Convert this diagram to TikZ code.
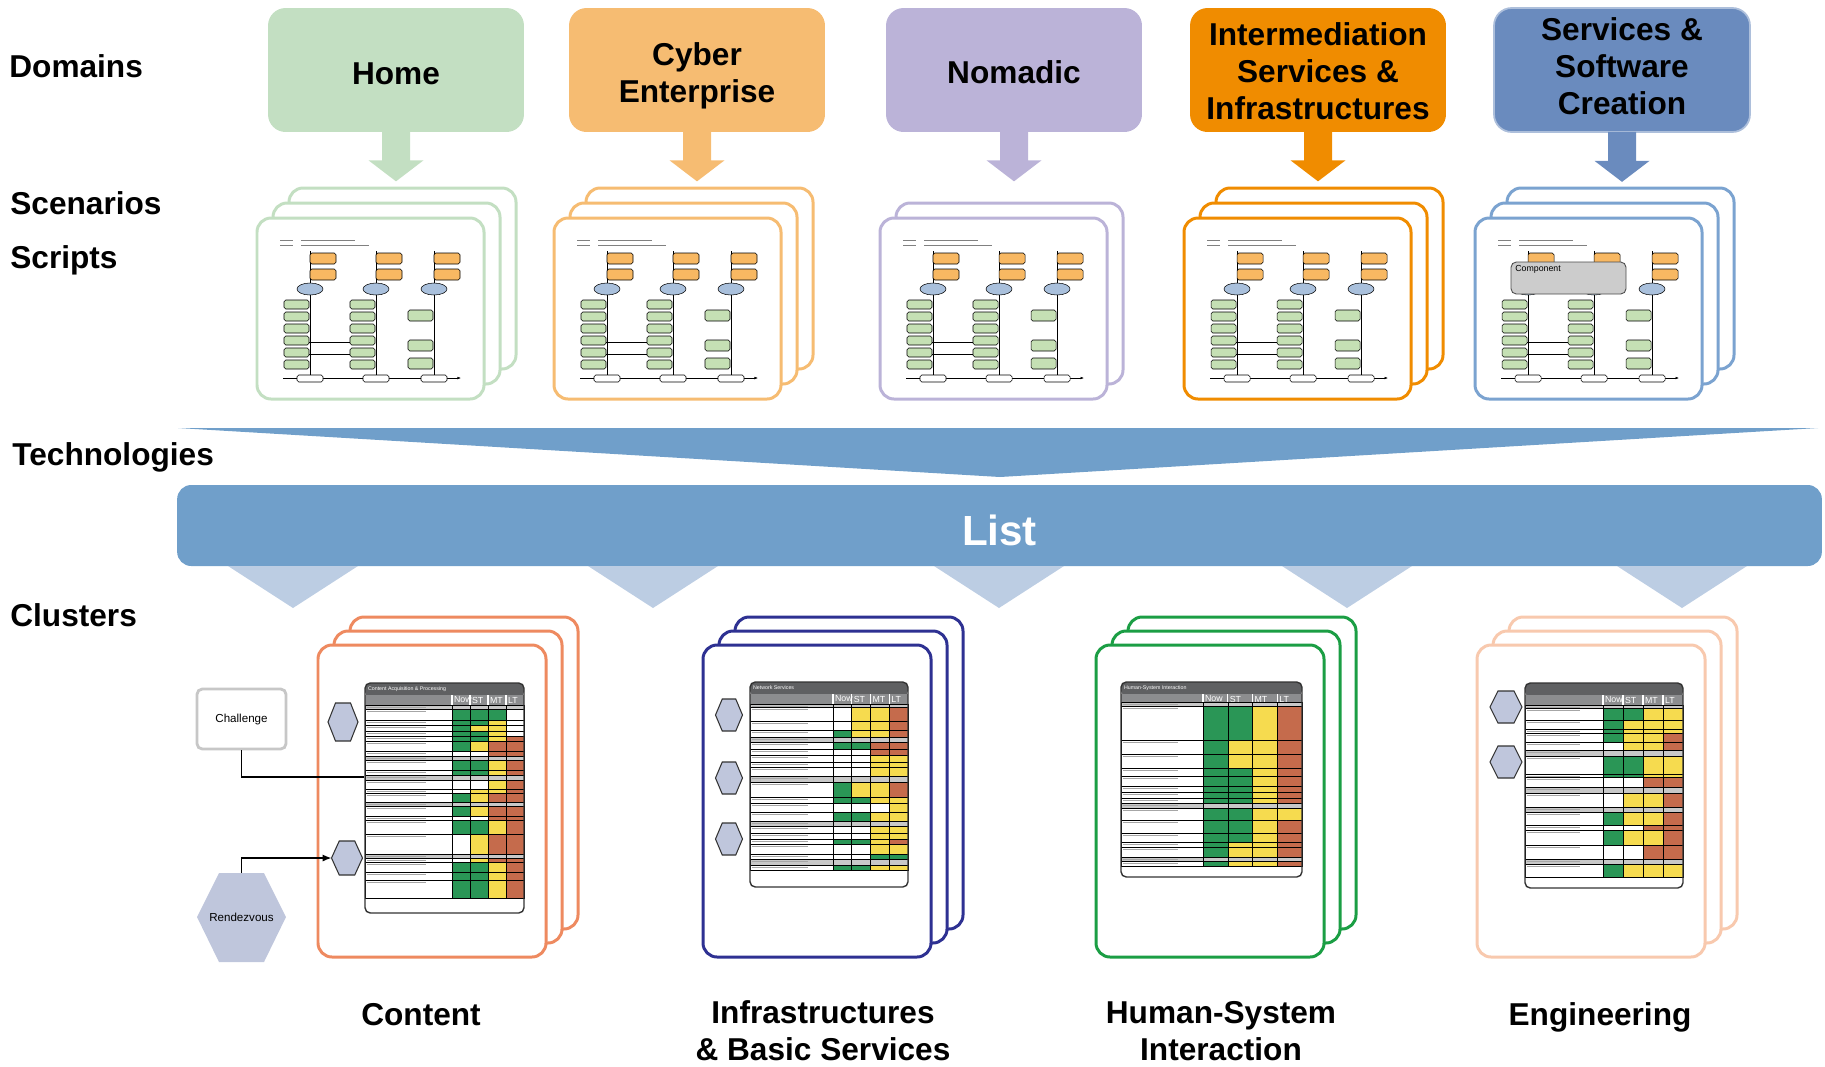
\documentclass[tikz,border=0pt]{standalone}
\usepackage{fontspec}
\setmainfont{Liberation Sans}
\usetikzlibrary{calc,arrows.meta}

\definecolor{homeg}{HTML}{C3DFC2}
\definecolor{cybero}{HTML}{F6BC72}
\definecolor{nomadp}{HTML}{BBB3D8}
\definecolor{intero}{HTML}{F08C00}
\definecolor{servb}{HTML}{6A8BBE}
\definecolor{servl}{HTML}{7BA3D0}
\definecolor{techb}{HTML}{709FCA}
\definecolor{clustb}{HTML}{BCCDE3}
\definecolor{contc}{HTML}{EE8A60}
\definecolor{infrc}{HTML}{2E3192}
\definecolor{hsic}{HTML}{1B9E44}
\definecolor{engc}{HTML}{F8C9AE}
\definecolor{tg}{HTML}{2A9656}
\definecolor{ty}{HTML}{F6DB4F}
\definecolor{tb}{HTML}{C56B4C}
\definecolor{ts}{HTML}{C8C8C8}
\definecolor{tw}{HTML}{FFFFFF}
\definecolor{tdark}{HTML}{5F6062}
\definecolor{thead}{HTML}{8C8D8F}
\definecolor{hexf}{HTML}{BFC6DC}
\definecolor{boxo}{HTML}{F8B862}
\definecolor{boxg}{HTML}{C5E0B4}
\definecolor{cloudb}{HTML}{A9C0DC}

% stacked scenario sheets with a small timeline sketch
\newcommand{\scenecards}[4]{%
  \foreach \k in {#4}
    \draw[#3, line width=1.7pt, fill=white, rounded corners=8pt]
      ({#1+16*\k},{#2-15*\k}) rectangle ++(227,181);
  \begin{scope}[shift={(#1,#2)}, line width=0.3pt]
    \draw[gray] (23,22) -- (36,22) (44,22) -- (98,22) (23,27) -- (36,27) (44,27) -- (112,27);
    \foreach \c in {53,119,177} {
      \draw (\c,33) -- (\c,160);
      \filldraw[fill=boxo, rounded corners=1pt] (\c,35) rectangle ++(26,11);
      \filldraw[fill=boxo, rounded corners=1pt] (\c,51) rectangle ++(26,11);
      \filldraw[fill=cloudb] (\c,71) ellipse (0.26cm and 0.12cm);
    }
    \foreach \r in {82,94,106,118,130,142} {
      \filldraw[fill=boxg, rounded corners=1pt] (27,\r) rectangle ++(25,9);
      \filldraw[fill=boxg, rounded corners=1pt] (93,\r) rectangle ++(25,9);
    }
    \foreach \r in {92,122,140}
      \filldraw[fill=boxg, rounded corners=1pt] (151,\r) rectangle ++(25,11);
    \foreach \r in {124,136} \draw (52,\r) -- (93,\r);
    \draw[-{Latex[length=2pt]}] (26,160) -- (204,160);
    \foreach \c in {53,119,177}
      \filldraw[fill=white, rounded corners=1pt] ({\c-13},157) rectangle ++(26,7);
  \end{scope}
}

% stacked cluster sheets
\newcommand{\clustercards}[3]{%
  \foreach \k in {2,1,0}
    \draw[#3, line width=1.7pt, fill=white, rounded corners=8pt]
      ({#1+16*\k},{#2-14*\k}) rectangle ++(228,312);
}

% roadmap table: x, y, width, height, label width, title, rows
\newcommand{\techtable}[7]{%
  \begin{scope}[shift={(#1,#2)}]
    \fill[white, rounded corners=3pt] (0,0) rectangle (#3,#4);
    \fill[tdark, rounded corners=3pt] (0,0) rectangle (#3,14);
    \fill[thead] (0,12) rectangle (#3,22);
    \pgfmathsetmacro{\colw}{(#3-#5)/4}
    \node[anchor=west, inner sep=1pt, text=white, font=\fontsize{3}{3}\selectfont] (ttl) at (1,6) {#6};
    \foreach \lab [count=\i from 0] in {Now,ST,MT,LT} {
      \draw[white, line width=0.6pt] ({#5+\i*\colw},12) -- ({#5+\i*\colw},22);
      \node[anchor=west, inner sep=1pt, text=white, font=\fontsize{5}{5}\selectfont] (col\i) at ({#5+\i*\colw},17) {\lab};
    }
    \foreach \ya/\yb/\cl/\ca/\cb/\cc/\cd in {#7} {
      \filldraw[fill=\cl, draw=black, line width=0.3pt] (0,\ya) rectangle (#5,\yb);
      \draw[gray!70, line width=0.5pt] (2,{\ya+2.2}) -- ({0.7*#5},{\ya+2.2});
      \filldraw[fill=\ca, draw=black, line width=0.3pt] (#5,\ya) rectangle ({#5+\colw},\yb);
      \filldraw[fill=\cb, draw=black, line width=0.3pt] ({#5+\colw},\ya) rectangle ({#5+2*\colw},\yb);
      \filldraw[fill=\cc, draw=black, line width=0.3pt] ({#5+2*\colw},\ya) rectangle ({#5+3*\colw},\yb);
      \filldraw[fill=\cd, draw=black, line width=0.3pt] ({#5+3*\colw},\ya) rectangle (#3,\yb);
    }
    \draw[black!80, line width=0.8pt, rounded corners=3pt] (0,0) rectangle (#3,#4);
  \end{scope}
}

% small milestone hexagon, name is its left corner
\newcommand{\smallhex}[5]{%
  \filldraw[fill=hexf, draw=black!80, line width=0.6pt]
    ({#2-#4/2},#3) -- ({#2-#4/4},{#3-#5/2}) -- ({#2+#4/4},{#3-#5/2}) -- ({#2+#4/2},#3)
    -- ({#2+#4/4},{#3+#5/2}) -- ({#2-#4/4},{#3+#5/2}) -- cycle;
  \coordinate (#1) at ({#2-#4/2},#3);
}

% block arrow under a domain
\newcommand{\domarrow}[2]{%
  \fill[#2] (#1.south) ++(-14,-1) -- ++(0,29) -- ++(-13.5,0) -- ++(27.5,21)
    -- ++(27.5,-21) -- ++(-13.5,0) -- ++(0,-29) -- cycle;
}

\begin{document}
\begin{tikzpicture}
  [x=0.02cm,y=-0.02cm,
   dombox/.style={rounded corners=10pt, minimum width=5.12cm, minimum height=2.48cm},
   domtext/.style={align=center, inner sep=0pt, font=\bfseries\fontsize{18}{21}\selectfont},
   rowlabel/.style={anchor=base west, inner sep=0pt, font=\bfseries\fontsize{18}{21}\selectfont},
   cluster/.style={align=center, inner sep=0pt, font=\bfseries\fontsize{18}{21}\selectfont}]

  \useasboundingbox (0,0) rectangle (1825,1066);

  % left hand labels
  \node[rowlabel] (ldom) at (9,77) {Domains};
  \node[rowlabel] (lscen) at (10,214) {Scenarios};
  \node[rowlabel] (lscr) at (10,268) {Scripts};
  \node[rowlabel] (ltech) at (12,465) {Technologies};
  \node[rowlabel] (lclus) at (10,626) {Clusters};

  % domains
  \node[dombox, fill=homeg] (home) at (396,70) {};
  \node[dombox, fill=cybero] (cyber) at (697,70) {};
  \node[dombox, fill=nomadp] (nomad) at (1014,70) {};
  \node[dombox, fill=intero] (inter) at (1318,70) {};
  \node[dombox, fill=servb, draw=servb!55!white, line width=1pt] (serv) at (1622,70) {};
  \node[domtext] (homet) at (396,73.5) {Home};
  \node[domtext] (cybert) at (697,76) {Cyber\\Enterprise};
  \node[domtext] (nomadt) at (1014,72.5) {Nomadic};
  \node[domtext] (intert) at (1318,71.5) {Intermediation\\Services \&\\Infrastructures};
  \node[domtext] (servt) at (1622,66.5) {Services \&\\Software\\Creation};

  \domarrow{home}{homeg}
  \domarrow{cyber}{cybero}
  \domarrow{nomad}{nomadp}
  \domarrow{inter}{intero}
  \domarrow{serv}{servb}

  % scenarios and scripts
  \scenecards{257}{218}{homeg}{2,1,0}
  \scenecards{554}{218}{cybero}{2,1,0}
  \scenecards{880}{218}{nomadp}{1,0}
  \scenecards{1184}{218}{intero}{2,1,0}
  \scenecards{1475}{218}{servl}{2,1,0}
  \filldraw[fill=gray!40, draw=black!70, line width=0.5pt, rounded corners=3pt] (1511,262) rectangle (1626,294);
  \node[anchor=north west, inner sep=0pt, font=\fontsize{5}{5}\selectfont] (comp) at (1515,265) {Component};

  % technologies
  \fill[techb] (178,428) -- (1818,428) -- (1000,477) -- cycle;
  \node[fill=techb, rounded corners=8pt, minimum width=32.9cm, minimum height=1.62cm] (list) at (999.5,525.5) {};
  \node[text=white, inner sep=0pt, font=\bfseries\fontsize{24}{28}\selectfont] (listt) at (999.5,530) {List};
  \foreach \cx in {293,653,999,1347,1682}
    \fill[clustb] ({\cx-65},566) -- ({\cx+65},566) -- (\cx,608) -- cycle;

  % clusters
  \clustercards{318}{645}{contc}
  \clustercards{703}{645}{infrc}
  \clustercards{1096}{645}{hsic}
  \clustercards{1477}{645}{engc}

  \techtable{365}{683}{159}{230}{87}{Content Acquisition \& Processing}{
    22/26/ts/ts/ts/ts/ts, 26/37/tw/tg/tg/tg/tw, 37/42/tw/tg/tg/ty/tw, 42/48/tw/tg/ty/ty/tw,
    48/53/tw/tg/tg/ty/tw, 53/58/tw/tg/tg/ty/tb, 58/68/tw/tg/ty/tb/tb, 68/73/tw/tw/tw/tb/tb,
    73/77/ts/ts/ts/ts/ts, 77/87/tw/tg/tg/ty/tb, 87/92/tw/tg/tg/ty/tb, 92/97/ts/ts/ts/ts/ts,
    97/106/tw/tw/tw/ty/tb, 106/110/tw/tw/ty/ty/tb, 110/119/tw/tg/ty/tb/tb, 119/123/ts/ts/ts/ts/ts,
    123/133/tw/tg/ty/tb/tb, 133/137/tw/tw/tw/tb/tb, 137/151/tw/tg/tg/ty/tb, 151/171/tw/tw/ty/tb/tb,
    171/175/ts/ts/ts/ts/ts, 175/179/tw/tw/ty/tb/tb, 179/189/tw/tg/tg/ty/tb, 189/197/tw/tg/tg/ty/tb,
    197/215/tw/tg/tg/ty/tb}
  \techtable{750}{682}{158}{205}{83}{Network Services}{
    22/25/ts/ts/ts/ts/ts, 25/39/tw/tw/ty/ty/tb, 39/48/tw/tw/ty/ty/tb, 48/55/tw/tg/ty/ty/tb,
    55/60/ts/ts/ts/ts/ts, 60/67/tw/tg/tg/tb/tb, 67/73/tw/tw/tw/tb/tb, 73/80/tw/tw/tw/ty/ty,
    80/85/tw/tw/tw/ty/ty, 85/94/tw/tw/tw/ty/ty, 94/100/ts/ts/ts/ts/ts, 100/115/tw/tg/ty/ty/tb,
    115/121/tw/tg/tg/ty/ty, 121/130/tw/tw/tw/tw/ty, 130/139/tw/tg/tg/ty/ty, 139/144/ts/ts/ts/ts/ts,
    144/151/tw/tw/tw/ty/ty, 151/157/tw/tw/tw/ty/ty, 157/162/tw/tg/tg/ty/tb, 162/172/tw/tw/tw/ty/ty,
    172/177/tw/tw/tw/tg/tg, 177/183/ts/ts/ts/ts/ts, 183/188/tw/tg/tg/ty/ty}
  \techtable{1121}{682}{181}{195}{82}{Human-System Interaction}{
    20/24/ts/ts/ts/ts/ts, 24/58/tw/tg/tg/ty/tb, 58/72/tw/tg/ty/ty/tb, 72/86/tw/tg/ty/ty/tb,
    86/94/tw/tg/tg/ty/tb, 94/104/tw/tg/tg/ty/tb, 104/110/tw/tg/tg/ty/tb, 110/116/tw/tg/tg/ty/tb,
    116/121/tw/tg/tg/ty/tb, 121/126/ts/ts/ts/ts/ts, 126/138/tw/tg/tg/ty/ty, 138/151/tw/tg/tg/ty/tb,
    151/160/tw/tg/tg/ty/tb, 160/165/tw/tg/ty/ty/tb, 165/175/tw/tg/ty/ty/tb, 175/179/ts/ts/ts/ts/ts,
    179/184/tw/tg/ty/ty/tb}
  \techtable{1525}{683}{158}{205}{78}{}{
    22/25/ts/ts/ts/ts/ts, 25/37/tw/tg/tg/ty/ty, 37/46/tw/tg/ty/ty/ty, 46/50/tw/tg/ty/ty/ty,
    50/59/tw/tg/ty/ty/tb, 59/67/tw/tw/ty/ty/tb, 67/73/ts/ts/ts/ts/ts, 73/91/tw/tg/tg/ty/ty,
    91/94/tw/tg/tg/ty/ty, 94/104/tw/tw/tw/tb/tb, 104/110/ts/ts/ts/ts/ts, 110/124/tw/tw/ty/ty/tb,
    124/129/ts/ts/ts/ts/ts, 129/142/tw/tg/ty/ty/tb, 142/147/tw/tw/tw/tb/tb, 147/162/tw/tg/ty/ty/tb,
    162/176/tw/tw/tw/tb/tb, 176/181/ts/ts/ts/ts/ts, 181/194/tw/tg/ty/ty/ty}

  % milestones
  \smallhex{hxa}{343}{722}{30}{38}
  \smallhex{hxb}{347}{858}{31}{34}
  \smallhex{hxc}{729}{715}{27}{32}
  \smallhex{hxd}{729}{778}{27}{32}
  \smallhex{hxe}{729}{839}{27}{32}
  \smallhex{hxf}{1506}{707}{32}{32}
  \smallhex{hxg}{1506}{762}{32}{32}

  \node[draw=black!22, line width=1.6pt, fill=white, rounded corners=3pt, minimum width=1.78cm,
    minimum height=1.2cm, font=\fontsize{6.6}{8}\selectfont] (chal) at (241.5,719) {Challenge};
  \fill[hexf] (197,917) -- (219,873) -- (264,873) -- (286,917) -- (264,962) -- (219,962) -- cycle;
  \node[font=\fontsize{6.6}{8}\selectfont] (rdv) at (241.5,917) {Rendezvous};
  \coordinate (rdvtop) at (241.5,873);
  \coordinate (ctab) at (364,777);

  \path[-{Latex[length=5pt,width=4pt]}, draw, line width=0.8pt]
    (chal.south) |- (ctab)
    (rdvtop) |- (hxb);

  % cluster names
  \node[cluster, anchor=base] (ccont) at (421,1025) {Content};
  \node[cluster] (cinfr) at (823,1031) {Infrastructures\\\& Basic Services};
  \node[cluster] (chsi) at (1221,1031) {Human-System\\Interaction};
  \node[cluster, anchor=base] (ceng) at (1600,1025) {Engineering};

\end{tikzpicture}
\end{document}
